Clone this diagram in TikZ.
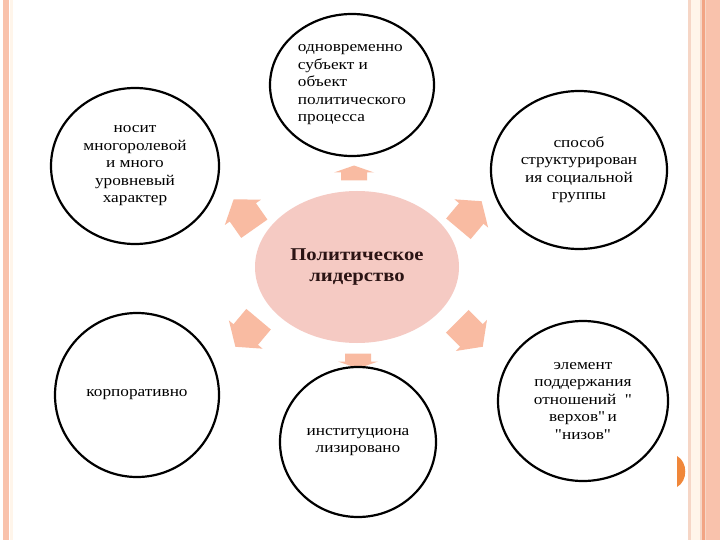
\documentclass[tikz,border=0pt]{standalone}
\usepackage{fontspec}
\setmainfont{Liberation Serif}[FakeStretch=1.15, Ligatures=TeXOff]
\usepackage{xcolor}
\usepackage{tikz}
\usetikzlibrary{shapes,shapes.geometric,positioning}

\definecolor{peach}{HTML}{F9C2AC}
\definecolor{peachlight}{HTML}{F6D6C6}
\definecolor{cream}{HTML}{FFF5EA}
\definecolor{stripe}{HTML}{F2A484}
\definecolor{arrowpink}{HTML}{F9BBA2}
\definecolor{corepink}{HTML}{F5CAC3}
\definecolor{dotorange}{HTML}{F0873A}
\definecolor{coretext}{HTML}{2B1414}

\begin{document}
\begin{tikzpicture}[
    x=1pt, y=-1pt,
    bubble/.style={ellipse, draw=black, line width=2.2pt, inner sep=0pt, align=center,
                   font=\fontsize{15}{17.5}\selectfont, text=black},
    core/.style={ellipse, fill=corepink, inner sep=0pt, align=center,
                 minimum width=204pt, minimum height=152pt,
                 font=\fontsize{18}{20.5}\selectfont\bfseries, text=coretext},
    % short wide block arrow (up / down)
    flatarrow/.pic={\fill[arrowpink] (-7.5,-13) -- (0.5,-13) -- (0.5,-20) -- (7.5,0)
                    -- (0.5,20) -- (0.5,13) -- (-7.5,13) -- cycle;},
    % big block arrow (diagonals)
    fatarrow/.pic={\fill[arrowpink] (-18,-16) -- (2,-16) -- (2,-22) -- (18,0)
                   -- (2,22) -- (2,16) -- (-18,16) -- cycle;}
]
    \useasboundingbox (0,0) rectangle (720,540);
    \fill[white] (0,0) rectangle (720,540);

    % Border stripes
    \fill[peach] (3,0) rectangle (9,540);
    \fill[cream] (10,0) rectangle (13,540);
    \fill[peachlight] (688,0) rectangle (720,540);
    \fill[cream] (691,0) rectangle (700,540);
    \fill[stripe] (702,0) rectangle (704.5,540);
    \fill[peach] (706,0) rectangle (720,540);

    % Arrows
    \pic [rotate=90] (toSubject) at (354,173) {flatarrow};
    \pic [rotate=-90] (toInst) at (358,361) {flatarrow};
    \pic [rotate=125] (toRoles) at (244,214) {fatarrow};
    \pic [rotate=50] (toGroup) at (470,215) {fatarrow};
    \pic [rotate=-130] (toCorp) at (247,333) {fatarrow};
    \pic [rotate=-45] (toBond) at (470,334) {fatarrow};

    % Nodes
    \node [core] (leader) at (357,267) {Политическое\\лидерство};

    \node [bubble, fill=white, align=left, minimum width=164pt, minimum height=142pt] (subject) at (352,85)
        {одновременно\\субъект и\\объект\\политического\\процесса};
    \node [bubble, minimum width=168pt, minimum height=156pt] (roles) at (135,166)
        {носит\\многоролевой\\и много\\уровневый\\характер};
    \node [bubble, minimum width=176pt, minimum height=158pt] (group) at (579,170)
        {способ\\структурирован\\ия социальной\\группы};
    \node [bubble, minimum width=164pt, minimum height=164pt] (corp) at (137,395)
        {корпоративно};
    \node [bubble, fill=white, minimum width=156pt, minimum height=150pt] (inst) at (358,442)
        {институциона\\лизировано};
    \node [bubble, minimum width=170pt, minimum height=160pt] (bond) at (583,401)
        {элемент\\поддержания\\отношений \ "\\верхов"\,и\\"низов"};

    % Page mark
    \fill[dotorange] (677,456) .. controls (688,462) and (688,481) .. (677,487) -- cycle;
\end{tikzpicture}
\end{document}
